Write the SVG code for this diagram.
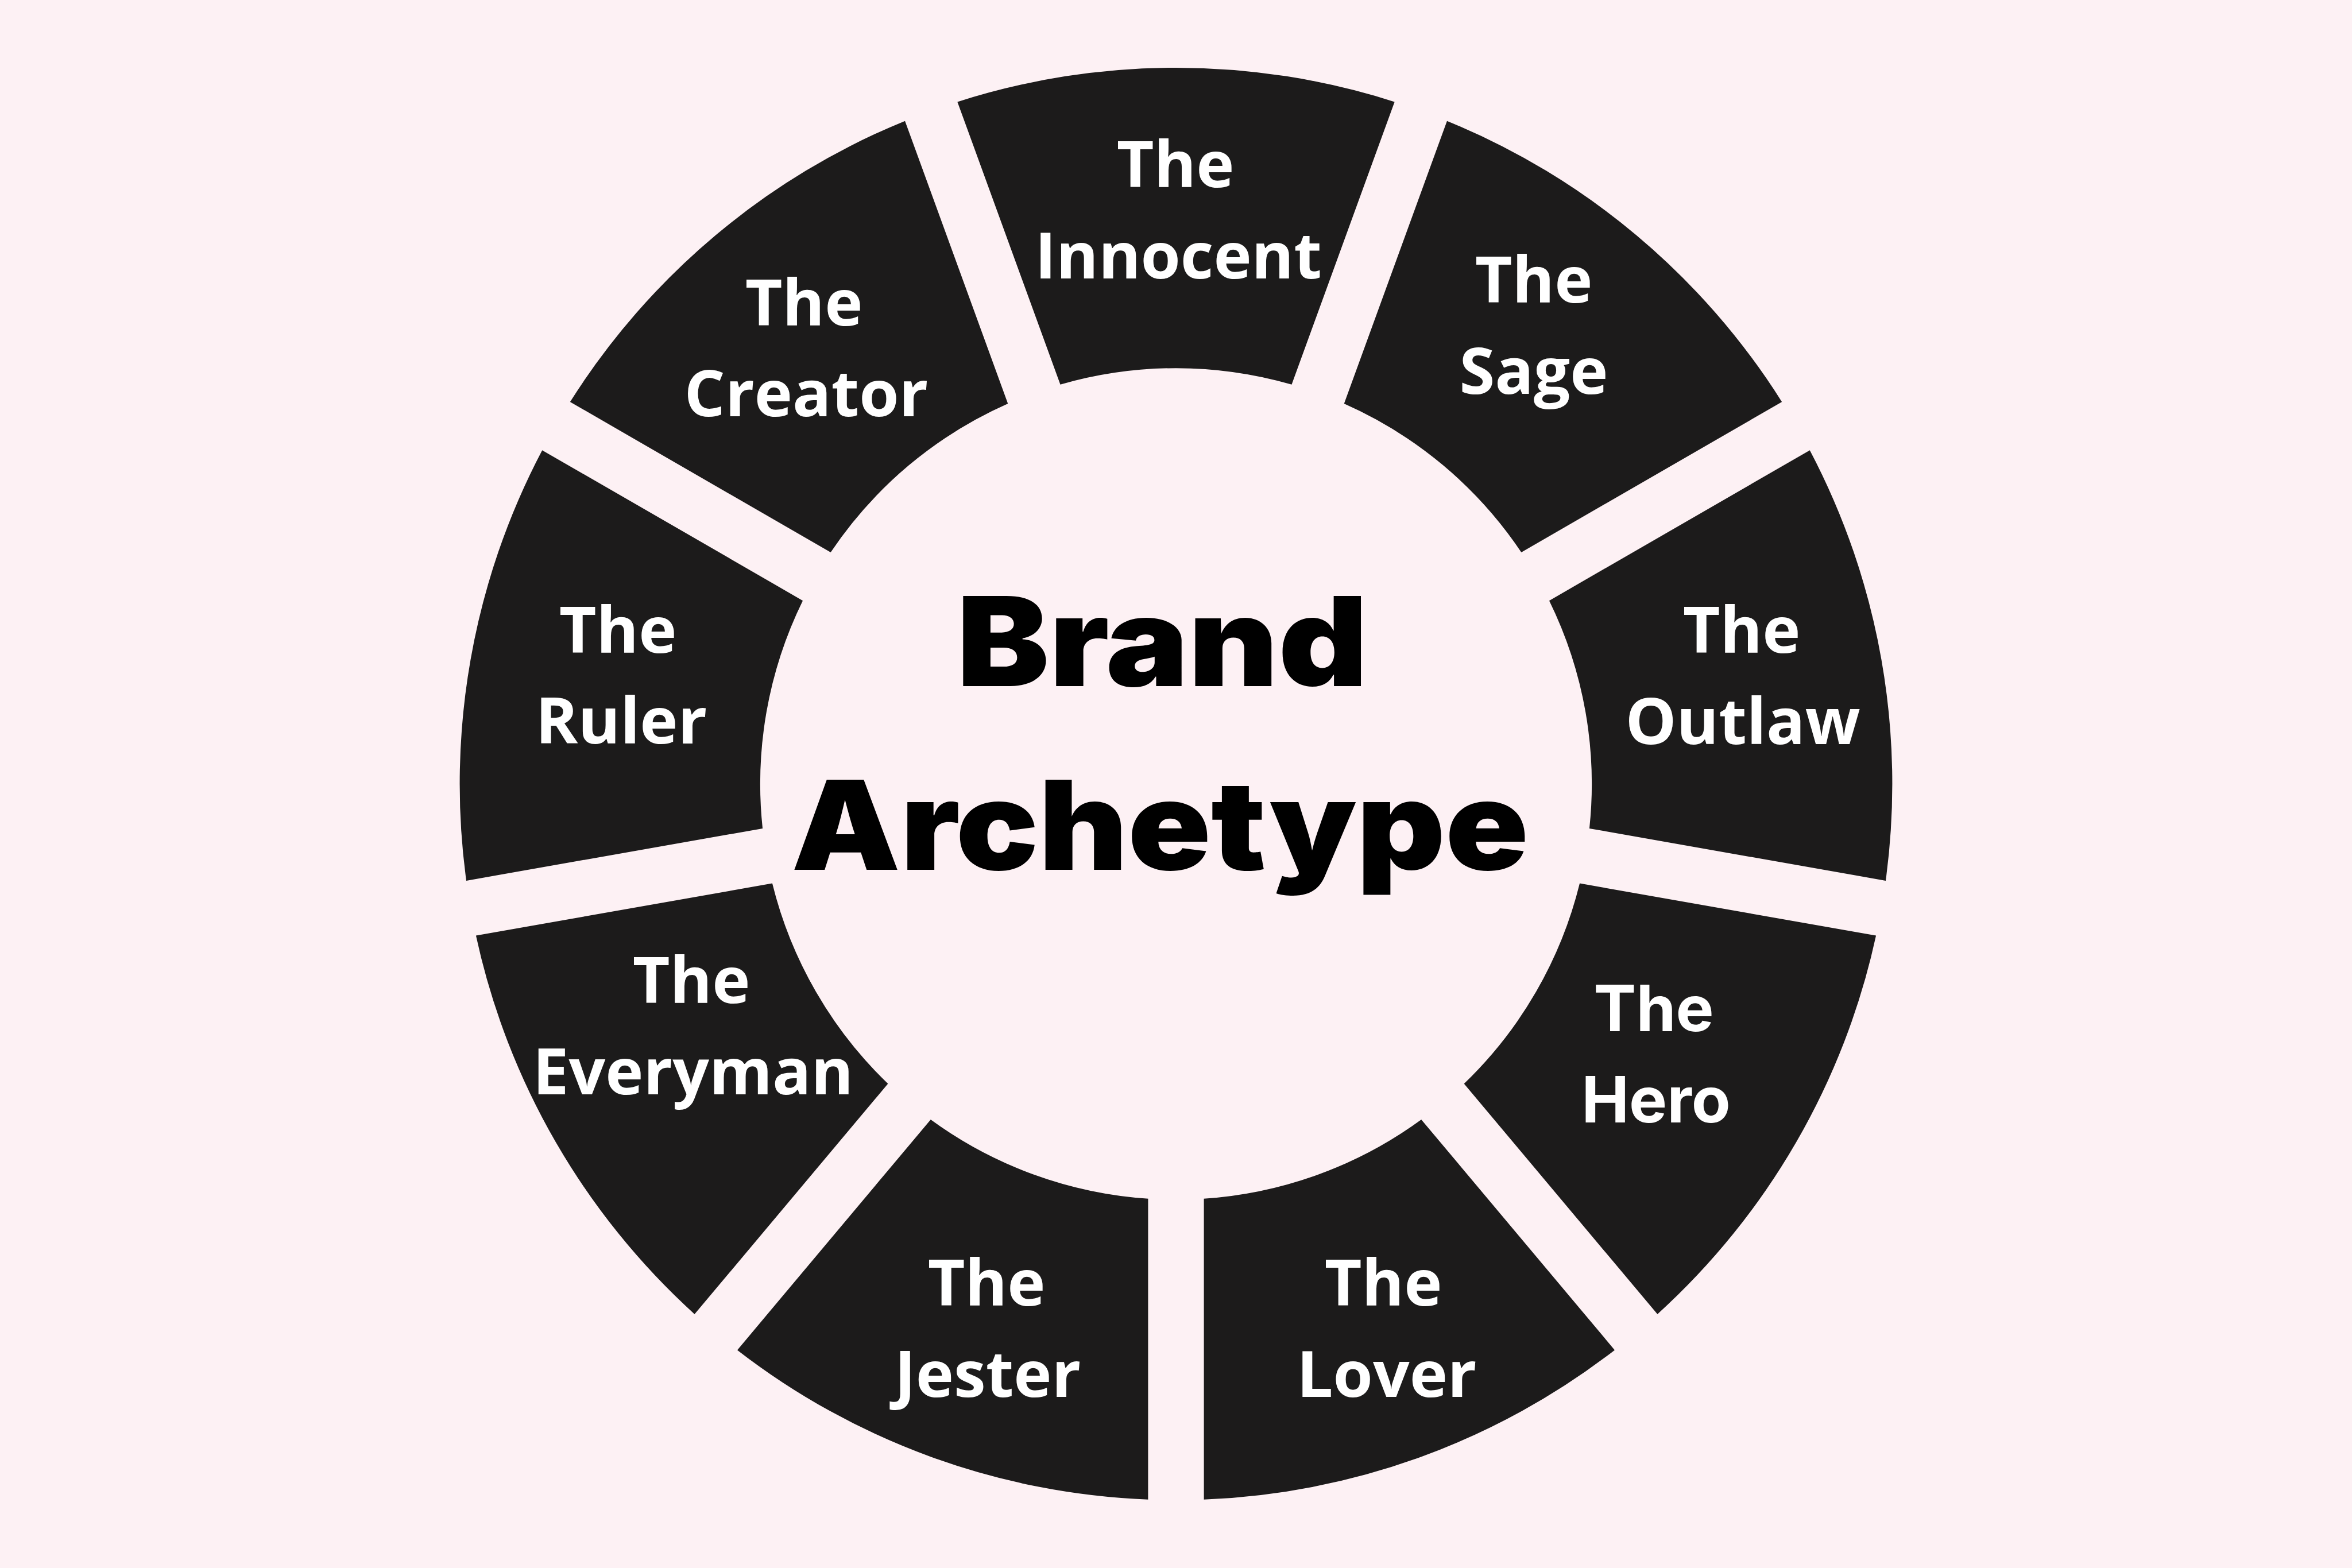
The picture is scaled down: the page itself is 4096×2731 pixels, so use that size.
<svg xmlns="http://www.w3.org/2000/svg" xmlns:xlink="http://www.w3.org/1999/xlink" width="4096" height="2731" viewBox="0 0 4096 2731">
<style>
.seg{fill:#1c1b1b}
.lbl{font-family:"Open Sans","Noto Sans","Liberation Sans",sans-serif;font-weight:700;font-size:112px;fill:#ffffff;text-anchor:middle}
.lbl2{font-family:Inter,"Liberation Sans",sans-serif;font-weight:700;font-size:111px;fill:#ffffff;text-anchor:middle}
.title{font-family:Inter,"Liberation Sans",sans-serif;font-weight:900;font-size:216px;fill:#000000;text-anchor:middle}
</style>
<defs>
<path id="seg" d="M1667.35,177.39 A1247.4,1247.4 0 0 1 2428.65,177.39 L2249.45,669.79 A724.1,724.1 0 0 0 1846.55,669.79 Z"/>
</defs>
<rect width="4096" height="2731" fill="#fdf1f4"/>
<g id="node-innocent">
<use xlink:href="#seg" class="seg"/>
<text class="lbl"><tspan x="2047" y="326">The</tspan><tspan x="2052" y="485">Innocent</tspan></text>
</g>
<g id="node-sage">
<use xlink:href="#seg" class="seg" transform="rotate(40 2048 1365.3)"/>
<text class="lbl"><tspan x="2671" y="527">The</tspan><tspan x="2671" y="686">Sage</tspan></text>
</g>
<g id="node-outlaw">
<use xlink:href="#seg" class="seg" transform="rotate(80 2048 1365.3)"/>
<text class="lbl"><tspan x="3033" y="1137">The</tspan><tspan x="3035" y="1296">Outlaw</tspan></text>
</g>
<g id="node-hero">
<use xlink:href="#seg" class="seg" transform="rotate(120 2048 1365.3)"/>
<text class="lbl2"><tspan x="2880" y="1796">The</tspan><tspan x="2884" y="1955">Hero</tspan></text>
</g>
<g id="node-lover">
<use xlink:href="#seg" class="seg" transform="rotate(160 2048 1365.3)"/>
<text class="lbl"><tspan x="2409" y="2274">The</tspan><tspan x="2415" y="2433">Lover</tspan></text>
</g>
<g id="node-jester">
<use xlink:href="#seg" class="seg" transform="rotate(200 2048 1365.3)"/>
<text class="lbl"><tspan x="1718" y="2274">The</tspan><tspan x="1720" y="2433">Jester</tspan></text>
</g>
<g id="node-everyman">
<use xlink:href="#seg" class="seg" transform="rotate(240 2048 1365.3)"/>
<text class="lbl"><tspan x="1204" y="1747">The</tspan><tspan x="1207" y="1906">Everyman</tspan></text>
</g>
<g id="node-ruler">
<use xlink:href="#seg" class="seg" transform="rotate(280 2048 1365.3)"/>
<text class="lbl"><tspan x="1076" y="1137">The</tspan><tspan x="1082" y="1295">Ruler</tspan></text>
</g>
<g id="node-creator">
<use xlink:href="#seg" class="seg" transform="rotate(320 2048 1365.3)"/>
<text class="lbl"><tspan x="1400" y="567">The</tspan><tspan x="1404" y="725">Creator</tspan></text>
</g>
<g id="node-title">
<text class="title" x="2024" y="1195" textLength="716" lengthAdjust="spacingAndGlyphs">Brand</text>
<text class="title" x="2020" y="1515" textLength="1284" lengthAdjust="spacingAndGlyphs">Archetype</text>
</g>
</svg>
